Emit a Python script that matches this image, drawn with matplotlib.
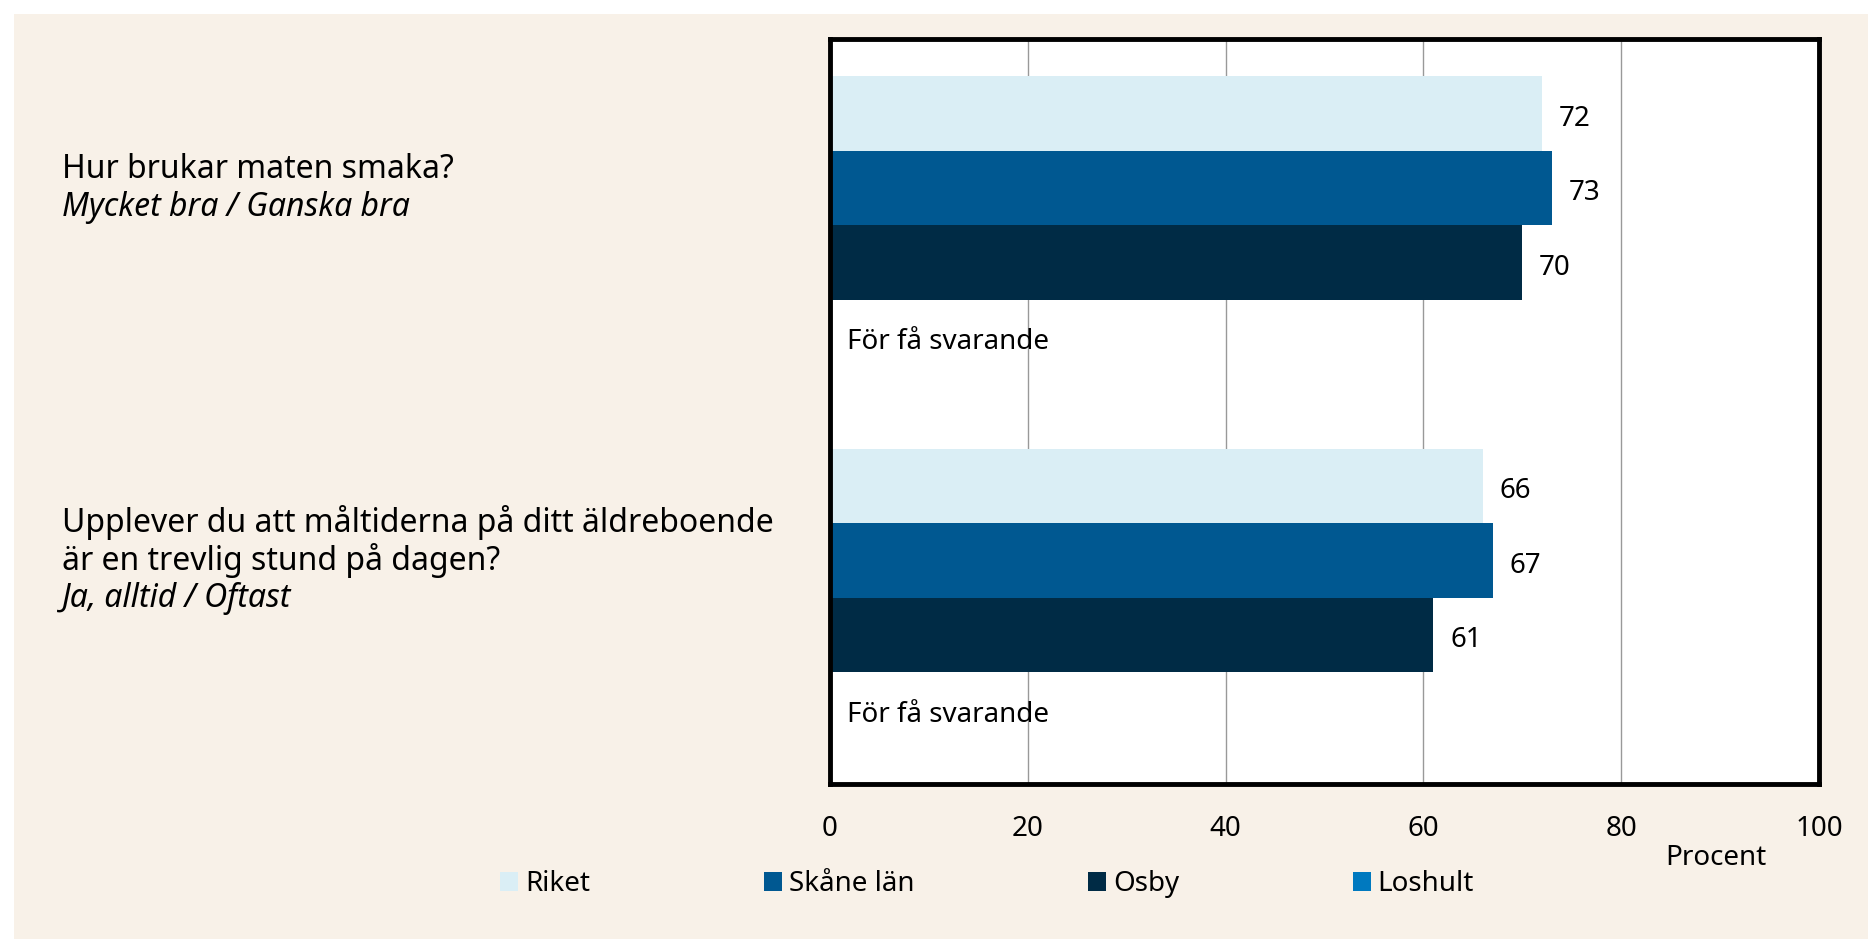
import matplotlib.pyplot as plt
from matplotlib.patches import Patch, Rectangle

plt.rcParams['font.family'] = ['Noto Sans', 'DejaVu Sans']

# data
questions = ["Hur brukar maten smaka?",
             "Upplever du att måltiderna på ditt äldreboende\när en trevlig stund på dagen?"]
answers = ["Mycket bra / Ganska bra", "Ja, alltid / Oftast"]
series = ["Riket", "Skåne län", "Osby", "Loshult"]
riket = [72, 66]
skane = [73, 67]
osby = [70, 61]
loshult = [None, None]
missing_text = "För få svarande"
xticks = [0, 20, 40, 60, 80, 100]

colors = ["#DAEEF5", "#005891", "#002B45", "#0079BF"]
bg = "#F8F1E8"
fs = 20
fs_q = 23

fig = plt.figure(figsize=(18.68, 9.39), dpi=100)
fig.patches.append(Rectangle((14 / 1868, 0), 1, 1 - 14 / 939, transform=fig.transFigure,
                             facecolor=bg, edgecolor="none", zorder=-10))

ax = fig.add_axes([830 / 1868, 155 / 939, 989 / 1868, 745 / 939])
ax.set_facecolor("white")

values = [riket, skane, osby, loshult]
for gi in range(len(questions)):
    base = gi * 5 + 1
    for si, vals in enumerate(values):
        y = base + si
        v = vals[gi]
        if v is None:
            ax.text(1.7, y + 0.07, missing_text, va="center", ha="left", fontsize=fs)
            continue
        ax.barh(y, v, height=1.0, color=colors[si], zorder=2)
        ax.text(v + 1.7, y + 0.07, str(v), va="center", ha="left", fontsize=fs)

ax.set_xlim(0, 100)
ax.set_ylim(10, 0)
ax.set_xticks(xticks)
ax.set_yticks([])
ax.xaxis.grid(True, color="#999999", linewidth=1, zorder=0)
ax.set_axisbelow(True)
ax.tick_params(axis="x", length=0, labelsize=fs, pad=22)
for s in ax.spines.values():
    s.set_linewidth(3.5)
    s.set_color("black")

ax.text(0.896, -0.099, "Procent", transform=ax.transAxes, ha="center", va="center", fontsize=fs)

# left side question labels, centred on the second bar of each group
step = 38 / 745 * 10  # line step in data units
for gi in range(len(questions)):
    yc = gi * 5 + 2
    all_lines = questions[gi].split("\n") + [answers[gi]]
    n = len(all_lines)
    y0 = yc - (n - 1) / 2 * step
    for li, line in enumerate(all_lines):
        style = "italic" if li == n - 1 else "normal"
        ax.text(-(830 - 62) / 989 * 100, y0 + li * step, line, ha="left", va="center",
                fontsize=fs_q, style=style, clip_on=False)

handles = [Patch(facecolor=c, edgecolor="none") for c in colors]
fig.legend(handles, series, loc="center left", bbox_to_anchor=(489 / 1868, 1 - 884 / 939),
           ncol=4, frameon=False, fontsize=fs, handlelength=0.65, handleheight=0.65,
           handletextpad=0.25, columnspacing=6.25, borderaxespad=0)

fig.savefig("out.png", dpi=100, facecolor="white")
